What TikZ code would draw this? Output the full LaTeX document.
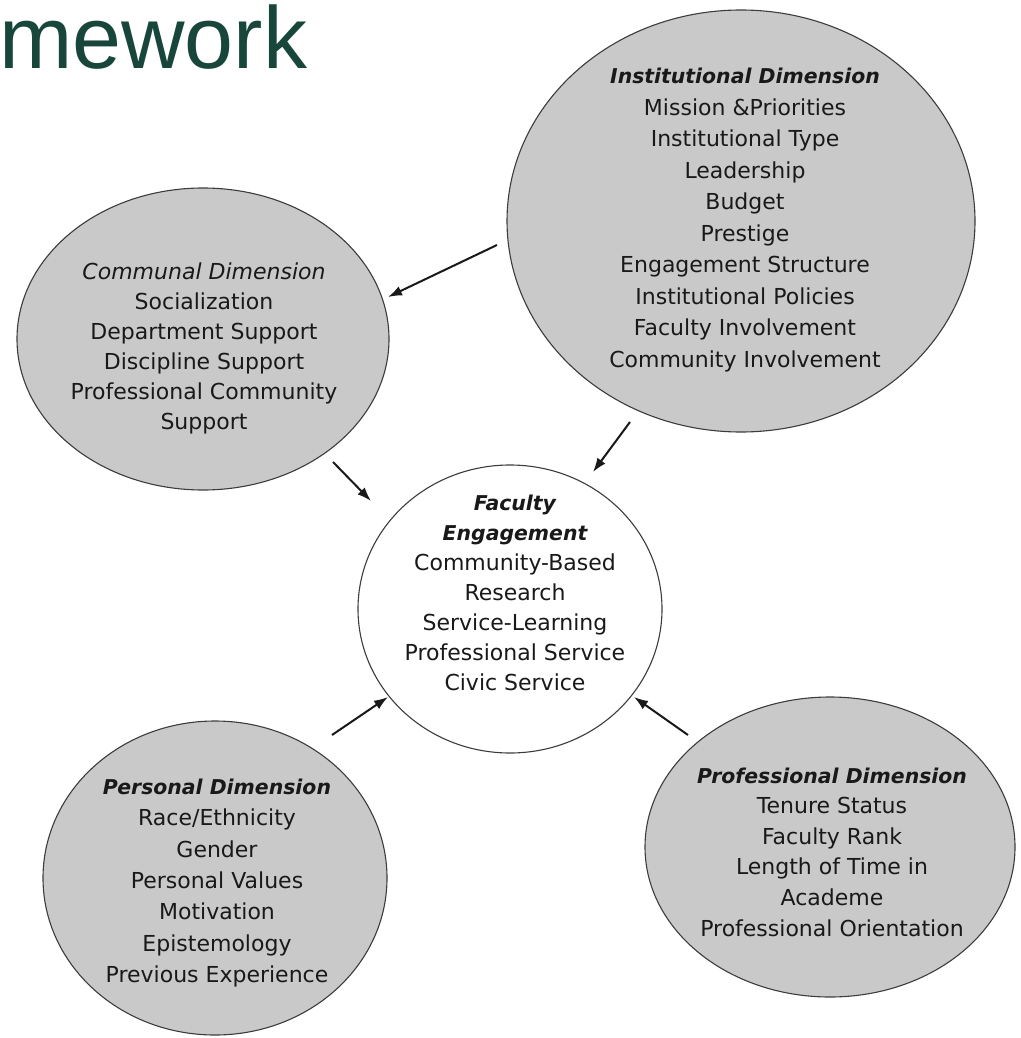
\documentclass[tikz,border=0pt]{standalone}
\usepackage{fontspec}
\setmainfont{DejaVu Sans}
\newfontfamily\titlefont{Liberation Sans}
\usetikzlibrary{arrows.meta,shapes.geometric}
\definecolor{titlegreen}{RGB}{24,70,58}
\definecolor{dimfill}{RGB}{201,201,201}
\definecolor{rim}{RGB}{60,60,60}
\definecolor{ink}{RGB}{25,25,25}
\newcommand{\dimhead}[1]{{\fontsize{20.4}{30}\selectfont\bfseries\itshape #1}}
\newcommand{\dimheadlight}[1]{{\itshape #1}}

\begin{document}
\begin{tikzpicture}[x=1pt,y=-1pt,
  dimshape/.style={ellipse, draw=rim, line width=1.1pt, fill=dimfill, inner sep=0pt},
  coreshape/.style={ellipse, draw=rim, line width=1.1pt, fill=white, inner sep=0pt},
  dimtext/.style={align=center, inner sep=0pt, text=ink},
  conn/.style={line width=2pt, draw=ink, -{Latex[length=14pt,width=10pt]}}
]
\useasboundingbox (0,0) rectangle (1020,1038);

% heading fragment
\node[anchor=base west, inner sep=0pt, text=titlegreen,
      font=\titlefont\fontsize{88}{88}\selectfont] (title) at (-1,69) {mework};

% the five dimension ellipses
\node[dimshape, minimum width=468pt, minimum height=422pt] (inst) at (741,221) {};
\node[dimshape, minimum width=372pt, minimum height=302pt] (comm) at (203,339) {};
\node[coreshape, minimum width=304pt, minimum height=288pt] (fac) at (510,609) {};
\node[dimshape, minimum width=344pt, minimum height=314pt] (pers) at (215,878) {};
\node[dimshape, minimum width=370pt, minimum height=300pt] (prof) at (830,847) {};

% their contents
\node[dimtext, font=\fontsize{22}{31.5}\selectfont] (insttext) at (745,220) {%
  \dimhead{Institutional Dimension}\\
  Mission \&Priorities\\ Institutional Type\\ Leadership\\ Budget\\ Prestige\\
  Engagement Structure\\ Institutional Policies\\ Faculty Involvement\\
  Community Involvement};

\node[dimtext, font=\fontsize{22}{30}\selectfont] (commtext) at (204,348) {%
  \dimheadlight{Communal Dimension}\\
  Socialization\\ Department Support\\ Discipline Support\\
  Professional Community\\ Support};

\node[dimtext, font=\fontsize{22}{30}\selectfont] (factext) at (515,593) {%
  \dimhead{Faculty}\\ \dimhead{Engagement}\\
  Community-Based\\ Research\\ Service-Learning\\
  Professional Service\\ Civic Service};

\node[dimtext, font=\fontsize{22}{31.3}\selectfont] (perstext) at (217,883) {%
  \dimhead{Personal Dimension}\\
  Race/Ethnicity\\ Gender\\ Personal Values\\ Motivation\\
  Epistemology\\ Previous Experience};

\node[dimtext, font=\fontsize{22}{30.6}\selectfont] (proftext) at (832,852) {%
  \dimhead{Professional Dimension}\\
  Tenure Status\\ Faculty Rank\\ Length of Time in\\ Academe\\
  Professional Orientation};

% arrow end points
\coordinate (instA) at (497,245);  \coordinate (commA) at (388,297);
\coordinate (instB) at (630,422);  \coordinate (facB)  at (593,472);
\coordinate (commC) at (333,462);  \coordinate (facC)  at (371,501);
\coordinate (persD) at (332,735);  \coordinate (facD)  at (388,697);
\coordinate (profE) at (688,735);  \coordinate (facE)  at (634,697);

\draw[conn] (instA) -- (commA);
\draw[conn] (instB) -- (facB);
\draw[conn] (commC) -- (facC);
\draw[conn] (persD) -- (facD);
\draw[conn] (profE) -- (facE);
\end{tikzpicture}
\end{document}
